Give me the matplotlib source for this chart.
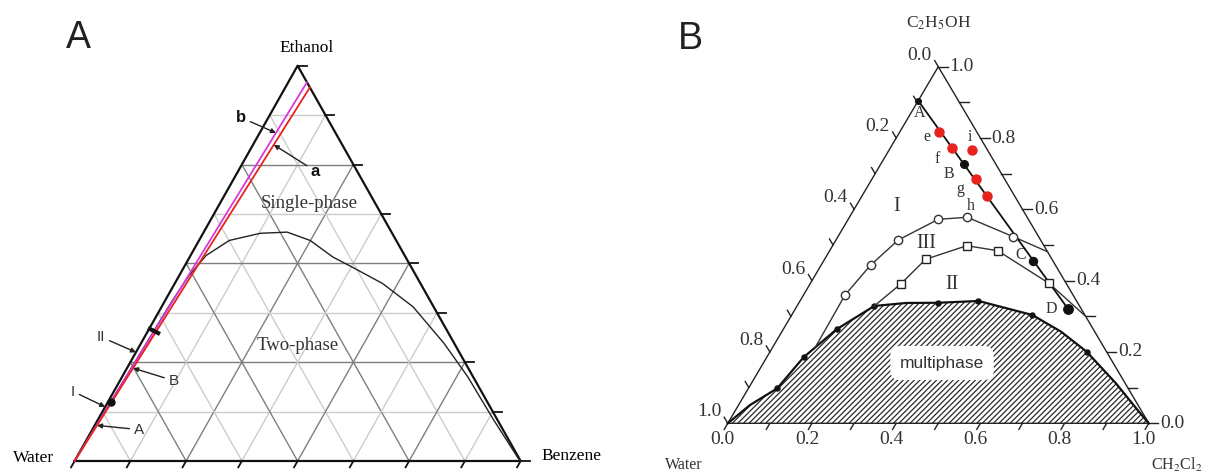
import matplotlib
matplotlib.use('Agg')
import matplotlib.pyplot as plt
import numpy as np
from matplotlib.markers import MarkerStyle
from matplotlib.transforms import Affine2D

plt.rcParams['font.family'] = ['Liberation Serif', 'DejaVu Serif']
plt.rcParams['mathtext.fontset'] = 'stix'
plt.rcParams['hatch.linewidth'] = 0.9

# ── Panel A data: (benzene, ethanol) mole fractions, water = rest ──
A_BINODAL_BENZ = [0.0, 0.004, 0.008, 0.012, 0.016, 0.022, 0.035, 0.068, 0.128, 0.187,
                  0.249, 0.321, 0.376, 0.466, 0.564, 0.679, 0.775, 0.888, 0.990, 1.0]
A_BINODAL_ETH = [0.0, 0.1, 0.2, 0.3, 0.4, 0.47, 0.52, 0.558, 0.576, 0.579,
                 0.558, 0.516, 0.491, 0.449, 0.39, 0.298, 0.213, 0.1035, 0.008, 0.0]
A_LINE_A_BENZ = [0.0, 0.055]      # red line "a"
A_LINE_A_ETH = [0.0, 0.945]
A_LINE_B_BENZ = [0.0, 0.042]      # magenta line "b"
A_LINE_B_ETH = [0.0, 0.958]
A_PT_I = (0.006, 0.15)
A_PT_II = (0.013, 0.33)

# ── Panel B data: (CH2Cl2, C2H5OH) mass fractions, water = rest ──
B_BND_CH2CL2 = [0.0, 0.027, 0.0685, 0.0875, 0.1266, 0.1835, 0.2546, 0.331, 0.424,
                0.5716, 0.663, 0.752, 0.866, 0.955, 1.0]
B_BND_ETOH = [0.0, 0.051, 0.098, 0.185, 0.2636, 0.329, 0.3374, 0.338, 0.343,
              0.3037, 0.257, 0.2008, 0.112, 0.037, 0.0]
B_BND_DOT_CH2CL2 = [0.0685, 0.0875, 0.1266, 0.1835, 0.331, 0.424, 0.5716, 0.752]
B_BND_DOT_ETOH = [0.098, 0.185, 0.2636, 0.329, 0.338, 0.343, 0.3037, 0.2008]

B_I_CH2CL2 = [0.1014, 0.0986, 0.1176, 0.148, 0.214, 0.280, 0.4164, 0.5188]
B_I_ETOH = [0.2112, 0.3598, 0.4439, 0.514, 0.572, 0.5777, 0.5233, 0.4812]
B_III_CH2CL2 = [0.1835, 0.2154, 0.2401, 0.3185, 0.399, 0.5667, 0.70]
B_III_ETOH = [0.329, 0.3906, 0.4599, 0.498, 0.484, 0.3926, 0.30]

B_AD_NAMES = ['A', 'B', 'C', 'D']
B_AD_CH2CL2 = [0.0, 0.1974, 0.4967, 0.649]
B_AD_ETOH = [0.9046, 0.7271, 0.4551, 0.3197]
B_RED_NAMES = ['e', 'f', 'g', 'h', 'i']
B_RED_CH2CL2 = [0.0936, 0.147, 0.2468, 0.2962, 0.1962]
B_RED_ETOH = [0.8177, 0.7712, 0.6842, 0.6374, 0.7664]

B_TICK_LABELS = [0.0, 0.2, 0.4, 0.6, 0.8, 1.0]

C_RED = '#e8231d'
C_MAG = '#d838e0'
C_GRID_D = '#7f7f7f'
C_GRID_L = '#cccccc'


def tern(right, top):
    """right-corner fraction, top-corner fraction -> cartesian (base 0..1)"""
    right = np.asarray(right, float)
    top = np.asarray(top, float)
    return right + top / 2, top


W, H = 1214, 474
fig = plt.figure(figsize=(W / 100, H / 100), dpi=100)
fig.patch.set_facecolor('white')

# ─────────────────────────────────────────────────────────────
# Panel A
# ─────────────────────────────────────────────────────────────
ax = fig.add_axes([0, 0, 607 / W, 1])
ax.set_xlim(-0.1673, 1.1937)
ax.set_ylim(-0.0329, 1.1662)
ax.axis('off')

n = 8
for k in range(1, n):
    f = k / n
    col = C_GRID_D if k % 2 == 0 else C_GRID_L
    for (r0, t0), (r1, t1) in [((0, f), (1 - f, f)),
                               ((f, 0), (f, 1 - f)),
                               ((1 - f, 0), (0, 1 - f))]:
        x, y = tern([r0, r1], [t0, t1])
        ax.plot(x, y, color=col, lw=1.0, zorder=1)
for k in range(0, n + 1):
    f = k / n
    x, y = tern([1 - f], [f])
    ax.plot([x[0], x[0] + 0.02], [y[0], y[0]], color='#111', lw=1.3, zorder=2)
    x, y = tern([f, f], [0, -0.016])
    ax.plot(x, y, color='#111', lw=1.3, zorder=2)

x, y = tern([0, 1, 0, 0], [0, 0, 1, 0])
ax.plot(x, y, color='#111', lw=1.6, zorder=3)

x, y = tern(A_BINODAL_BENZ, A_BINODAL_ETH)
ax.plot(x, y, color='#222', lw=1.0, zorder=4)
x, y = tern(A_LINE_B_BENZ, A_LINE_B_ETH)
ax.plot(x, y, color=C_MAG, lw=1.3, zorder=5)
x, y = tern(A_LINE_A_BENZ, A_LINE_A_ETH)
ax.plot(x, y, color=C_RED, lw=1.3, zorder=5)

x, y = tern([A_PT_I[0]], [A_PT_I[1]])
ax.plot(x, y, 'o', color='#111', ms=5, zorder=6)
bar = MarkerStyle('_', transform=Affine2D().rotate_deg(-30))
x, y = tern([A_PT_II[0]], [A_PT_II[1]])
ax.plot(x, y, marker=bar, color='#111', ms=10, mew=3, zorder=6)

arrow = dict(arrowstyle='-|>', color='#222', lw=1.0, mutation_scale=7,
             shrinkA=1, shrinkB=0)
sans = ['Liberation Sans', 'DejaVu Sans']


def on_line(rx, ty, e):
    return tern([rx[1] * e / ty[1]], [e])


for lab, xy, off, bold in [
        ('b', on_line(A_LINE_B_BENZ, A_LINE_B_ETH, 0.83), (-25, 11), True),
        ('a', on_line(A_LINE_A_BENZ, A_LINE_A_ETH, 0.80), (30, -19), True),
        ('II', tern([0], [0.275]), (-25, 11), False),
        ('B', on_line(A_LINE_A_BENZ, A_LINE_A_ETH, 0.235), (29, -9), False),
        ('I', tern([0], [0.137]), (-23, 11), False),
        ('A', on_line(A_LINE_A_BENZ, A_LINE_A_ETH, 0.09), (30, -3), False)]:
    ax.annotate(lab, xy=(xy[0][0], xy[1][0]), xytext=off, textcoords='offset points',
                ha='center', va='center', family=sans,
                fontsize=12 if bold else 11, fontweight='bold' if bold else 'normal',
                color='#111' if bold else '#333', arrowprops=arrow, zorder=7)

ax.text(0.519, 1.045, 'Ethanol', ha='center', va='center', fontsize=12.5)
ax.text(-0.091, 0.008, 'Water', ha='center', va='center', fontsize=12.5)
ax.text(1.115, 0.013, 'Benzene', ha='center', va='center', fontsize=12.5)
ax.text(0.526, 0.652, 'Single-phase', ha='center', va='center', fontsize=13.5, color='#333')
ax.text(0.500, 0.293, 'Two-phase', ha='center', va='center', fontsize=13.5, color='#333')

fig.text(78.5 / W, 1 - 38 / H, 'A', family=sans, fontsize=27, color='#222',
         ha='center', va='center')

# ─────────────────────────────────────────────────────────────
# Panel B
# ─────────────────────────────────────────────────────────────
bx = fig.add_axes([607 / W, 0, 607 / W, 1])
bx.set_xlim(-0.2869, 1.1549)
bx.set_ylim(-0.1422, 1.1870)
bx.axis('off')

x, y = tern(B_BND_CH2CL2, B_BND_ETOH)
bx.fill(x, y, facecolor='white', edgecolor='#2a2a2a', hatch='//////', lw=0, zorder=1)
bx.plot(x, y, color='#111', lw=1.6, zorder=3)
x, y = tern(B_BND_DOT_CH2CL2, B_BND_DOT_ETOH)
bx.plot(x, y, 'o', color='#111', ms=3.6, lw=0, zorder=4)

x, y = tern([0, 1, 0, 0], [0, 0, 1, 0])
bx.plot(x, y, color='#222', lw=1.0, zorder=2)

x, y = tern(B_I_CH2CL2, B_I_ETOH)
bx.plot(x, y, color='#333', lw=1.0, zorder=4)
bx.plot(x[1:-1], y[1:-1], 'o', ms=6, mfc='white', mec='#333', mew=1.0, lw=0, zorder=5)
x, y = tern(B_III_CH2CL2, B_III_ETOH)
bx.plot(x, y, color='#333', lw=1.0, zorder=4)
bx.plot(x[1:-1], y[1:-1], 's', ms=5.2, mfc='white', mec='#222', mew=1.0, lw=0, zorder=5)

x, y = tern(B_AD_CH2CL2, B_AD_ETOH)
bx.plot([x[0], x[-1]], [y[0], y[-1]], color='#111', lw=1.3, zorder=4)
for xi, yi, ms in zip(x, y, [4, 5.5, 5.8, 6.8]):
    bx.plot(xi, yi, 'o', color='#111', ms=ms, zorder=6)
for name, xi, yi, off in zip(B_AD_NAMES, x, y, [(1, -9), (-11, -7), (-9, 4), (-12, 0)]):
    bx.annotate(name, (xi, yi), xytext=off, textcoords='offset points',
                ha='center', va='center', fontsize=11.5, color='#333')

x, y = tern(B_RED_CH2CL2, B_RED_ETOH)
bx.plot(x, y, 'o', color=C_RED, ms=6.5, lw=0, zorder=6)
for name, xi, yi, off in zip(B_RED_NAMES, x, y,
                             [(-9, -4), (-11, -8), (-11, -7), (-11.5, -7), (-1, 9)]):
    bx.annotate(name, (xi, yi), xytext=off, textcoords='offset points',
                ha='center', va='center', fontsize=11.5, color='#333')

# axis ticks and labels
t = 0.017
for v in np.linspace(0, 1, 11):
    x, y = tern([v, v], [0, -t])
    bx.plot(x, y, color='#222', lw=1.0)
    x, y = tern([1 - v], [v])
    bx.plot([x[0], x[0] + 0.022], [y[0], y[0]], color='#222', lw=1.0)
    x, y = tern([0, -t], [1 - v, 1 - v + t])
    bx.plot(x, y, color='#222', lw=1.0)
for v in B_TICK_LABELS:
    lab = f'{v:.1f}'
    x, y = tern([v], [-t])
    bx.annotate(lab, (x[0], y[0]), xytext=(-1, -1), textcoords='offset points',
                ha='center', va='top', fontsize=14, color='#333')
    x, y = tern([1 - v], [v])
    bx.annotate(lab, (x[0] + 0.022, y[0]), xytext=(1.5, 0), textcoords='offset points',
                ha='left', va='center', fontsize=14, color='#333')
    x, y = tern([-t], [1 - v + t])
    bx.annotate(lab, (x[0], y[0]), xytext=(-2, 4), textcoords='offset points',
                ha='right', va='center', fontsize=14, color='#333')

bx.text(0.401, 0.607, 'I', ha='center', va='center', fontsize=14.5, color='#333')
bx.text(0.472, 0.505, 'III', ha='center', va='center', fontsize=14.5, color='#333')
bx.text(0.533, 0.388, 'II', ha='center', va='center', fontsize=14.5, color='#333')
bx.text(0.509, 0.169, 'multiphase', ha='center', va='center', family=sans,
        fontsize=12.5, color='#333', zorder=7,
        bbox=dict(boxstyle='round,pad=0.55', facecolor='white', edgecolor='none'))

bx.text(0.5, 1.122, r'C$_2$H$_5$OH', ha='center', va='center', fontsize=12.5, color='#333')
bx.text(-0.104, -0.117, 'Water', ha='center', va='center', fontsize=11.5, color='#333')
bx.text(1.005, -0.117, r'CH$_2$Cl$_2$', ha='left', va='center', fontsize=11.5, color='#333')

fig.text(690 / W, 1 - 39 / H, 'B', family=sans, fontsize=27, color='#222',
         ha='center', va='center')

fig.savefig('out.png', dpi=100, facecolor='white')
plt.close(fig)
